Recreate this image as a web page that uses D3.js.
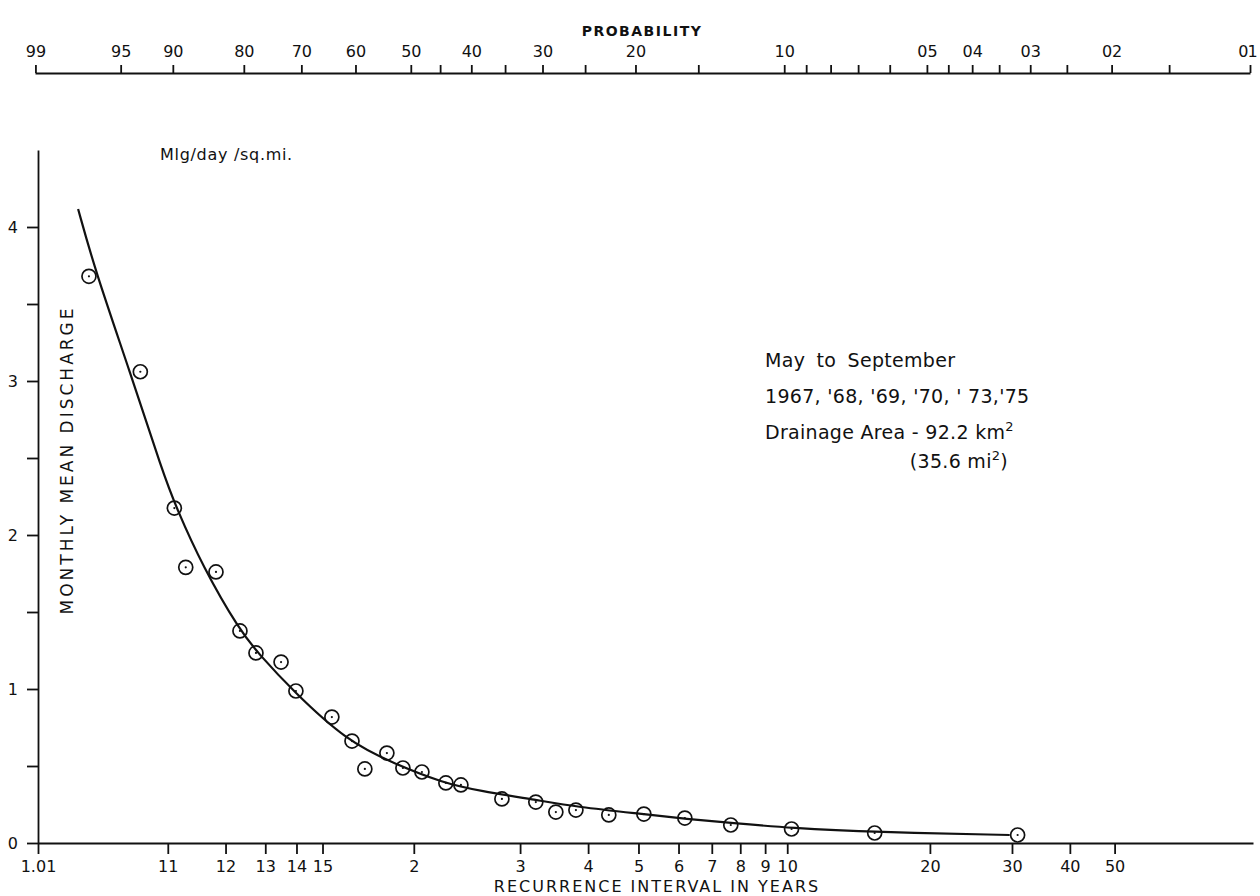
<!DOCTYPE html>
<html>
<head>
<meta charset="utf-8">
<script src="https://cdn.jsdelivr.net/npm/d3@7/dist/d3.min.js"></script>
<style>
  body { margin: 0; background: #fff; }
  svg text { font-family: "DejaVu Sans", sans-serif; fill: #111; }
</style>
</head>
<body>
<script>
// Observed points: recurrence interval (years) and monthly mean discharge
const recurrenceYears = [
  1.029, 1.068, 1.109, 1.126, 1.180, 1.233, 1.274, 1.348, 1.398, 1.540,
  1.634, 1.700, 1.825, 1.926, 2.058, 2.245, 2.375, 2.787, 3.201, 3.482,
  3.794, 4.380, 5.123, 6.177, 7.651, 10.21, 15.26, 30.85
];
const dischargeValues = [
  3.68, 3.06, 2.175, 1.79, 1.76, 1.377, 1.234, 1.175, 0.987, 0.818,
  0.662, 0.481, 0.584, 0.487, 0.461, 0.39, 0.377, 0.286, 0.266, 0.201,
  0.214, 0.182, 0.188, 0.162, 0.117, 0.091, 0.065, 0.052
];

// Fitted curve drawn by hand on the original
const curveYears = [
  1.0236, 1.0324, 1.0582, 1.0938, 1.1114, 1.1551, 1.2332, 1.2794, 1.3877,
  1.6095, 1.8622, 2.2203, 2.5549, 3.2154, 3.8096, 5.0993, 6.2305, 7.686,
  10.17, 15.26, 29.66
];
const curveValues = [
  4.117, 3.721, 3.058, 2.403, 2.182, 1.792, 1.377, 1.234, 0.987,
  0.662, 0.519, 0.39, 0.338, 0.279, 0.234, 0.188, 0.156, 0.13,
  0.097, 0.071, 0.052
];

// Bottom axis: recurrence interval
const yearTicks = [1.01, 1.1, 1.2, 1.3, 1.4, 1.5, 2, 3, 4, 5, 6, 7, 8, 9, 10, 20, 30, 40, 50];
const yearTickLabels = ["1.01", "11", "12", "13", "14", "15", "2", "3", "4", "5", "6", "7", "8", "9", "10", "20", "30", "40", "50"];

// Top axis: exceedance probability in percent
const probTicks = [99, 95, 90, 80, 70, 60, 50, 40, 30, 20, 10, 5, 4, 3, 2, 1];
const probTickLabels = ["99", "95", "90", "80", "70", "60", "50", "40", "30", "20", "10", "05", "04", "03", "02", "01"];
const probMinorTicks = [45, 35, 25, 15, 9, 8, 7, 6, 4.5, 3.5, 2.5, 1.5];

// Left axis
const dischargeTicks = [0, 0.5, 1, 1.5, 2, 2.5, 3, 3.5, 4];
const dischargeTickLabels = ["0", "", "1", "", "2", "", "3", "", "4"];

const width = 1260;
const height = 896;

// Gumbel reduced variate for a recurrence interval
const gumbel = (t) => -Math.log(-Math.log(1 - 1 / t));

const svg = d3
  .select("body")
  .append("svg")
  .attr("width", width)
  .attr("height", height);

const x = d3
  .scaleLinear()
  .domain([gumbel(1.01), gumbel(100)])
  .range([38, 1253]);

const y = d3.scaleLinear().domain([0, 4.5]).range([843, 150]);

const styleAxis = (g) => {
  g.selectAll("path, line").attr("stroke", "#111").attr("stroke-width", 1.8);
  g.selectAll("text")
    .style("font-family", '"DejaVu Sans", sans-serif')
    .style("font-size", "16px")
    .attr("fill", "#111");
};

// Bottom axis
const xAxis = d3
  .axisBottom(x)
  .tickValues(yearTicks.map(gumbel))
  .tickFormat((d, i) => yearTickLabels[i])
  .tickSize(11)
  .tickSizeOuter(0)
  .tickPadding(7);

svg
  .append("g")
  .attr("transform", "translate(0,843)")
  .call(xAxis)
  .call(styleAxis);

// Left axis
const yAxis = d3
  .axisLeft(y)
  .tickValues(dischargeTicks)
  .tickFormat((d, i) => dischargeTickLabels[i])
  .tickSize(11)
  .tickSizeOuter(0)
  .tickPadding(9);

svg
  .append("g")
  .attr("transform", "translate(38,0)")
  .call(yAxis)
  .call(styleAxis);

// Top probability axis
const probAxis = d3
  .axisTop(x)
  .tickValues(probTicks.map((p) => gumbel(100 / p)))
  .tickFormat((d, i) => probTickLabels[i])
  .tickSize(8)
  .tickSizeOuter(0)
  .tickPadding(8);

const probMinorAxis = d3
  .axisTop(x)
  .tickValues(probMinorTicks.map((p) => gumbel(100 / p)))
  .tickFormat("")
  .tickSize(8)
  .tickSizeOuter(0);

const topAxis = svg.append("g").attr("transform", "translate(-3,73)");
const probMajor = topAxis.append("g").call(probAxis).call(styleAxis);
topAxis
  .append("g")
  .call(probMinorAxis)
  .call(styleAxis)
  .call((g) => g.select(".domain").remove());

// last label sits against the page edge
probMajor
  .selectAll(".tick text")
  .filter((d, i, nodes) => i === nodes.length - 1)
  .attr("dx", -3)
  .style("letter-spacing", "-1px");

// Axis titles
svg
  .append("text")
  .attr("x", 642)
  .attr("y", 36)
  .attr("text-anchor", "middle")
  .style("font-size", "14px")
  .style("font-weight", "bold")
  .style("letter-spacing", "1.5px")
  .text("PROBABILITY");

svg
  .append("text")
  .attr("x", 657)
  .attr("y", 892)
  .attr("text-anchor", "middle")
  .style("font-size", "16px")
  .style("letter-spacing", "2px")
  .text("RECURRENCE INTERVAL IN YEARS");

svg
  .append("text")
  .attr("transform", "translate(73,460) rotate(-90)")
  .attr("text-anchor", "middle")
  .style("font-size", "17px")
  .style("letter-spacing", "3px")
  .text("MONTHLY MEAN DISCHARGE");

svg
  .append("text")
  .attr("x", 160)
  .attr("y", 160)
  .style("font-size", "16px")
  .style("letter-spacing", "0.7px")
  .text("Mlg/day /sq.mi.");

// Notes
const notes = svg
  .append("g")
  .style("font-size", "19px")
  .style("letter-spacing", "0.3px");

notes
  .append("text")
  .attr("x", 765)
  .attr("y", 367)
  .style("word-spacing", "5px")
  .text("May to September");

notes
  .append("text")
  .attr("x", 765)
  .attr("y", 403)
  .text("1967, '68, '69, '70, ' 73,'75");

const area = notes.append("text").attr("x", 765).attr("y", 439);
area.append("tspan").text("Drainage Area - 92.2 km");
area.append("tspan").attr("dy", -8).style("font-size", "13px").text("2");

const dashAt = area.node().getSubStringLength(0, 14);

const areaMi = notes
  .append("text")
  .attr("x", 765 + dashAt - 2)
  .attr("y", 468);
areaMi.append("tspan").text("(35.6 mi");
areaMi.append("tspan").attr("dy", -8).style("font-size", "13px").text("2");
areaMi.append("tspan").attr("dy", 8).text(")");

// Fitted curve
const curvePoints = curveYears.map((t, i) => [t, curveValues[i]]);

const line = d3
  .line()
  .x((d) => x(gumbel(d[0])))
  .y((d) => y(d[1]))
  .curve(d3.curveBasis);

svg
  .append("path")
  .datum(curvePoints)
  .attr("d", line)
  .attr("fill", "none")
  .attr("stroke", "#111")
  .attr("stroke-width", 2.2);

// Observations: circle with centre dot
const points = recurrenceYears.map((t, i) => ({ t, v: dischargeValues[i] }));

const marks = svg
  .selectAll(".obs")
  .data(points)
  .enter()
  .append("g")
  .attr("class", "obs")
  .attr("transform", (d) => `translate(${x(gumbel(d.t))},${y(d.v)})`);

marks
  .append("circle")
  .attr("r", 7)
  .attr("fill", "none")
  .attr("stroke", "#111")
  .attr("stroke-width", 1.7);

marks.append("circle").attr("r", 1.1).attr("fill", "#111");
</script>
</body>
</html>
